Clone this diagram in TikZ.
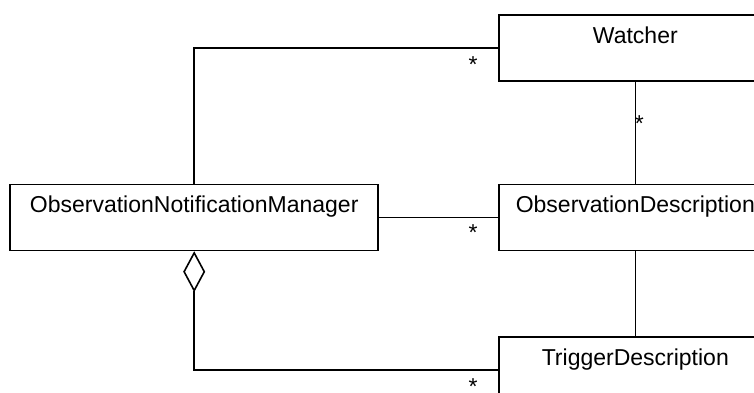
\documentclass[tikz,border=0pt]{standalone}
\usepackage{fontspec}
\setmainfont{Liberation Sans}
\usetikzlibrary{arrows.meta,positioning}

\begin{document}
\begin{tikzpicture}[x=1pt, y=-1pt, line width=1.6pt, font=\fontsize{23}{27}\selectfont,
    cls/.style={draw, rectangle, inner sep=0pt, text height=28.5pt, text depth=37.5pt, minimum height=66pt},
    mult/.style={inner sep=0pt, text height=12pt, text depth=-6pt}]
  \useasboundingbox (0,0) rectangle (754,392);
  \node[cls, minimum width=273pt, anchor=north west] (watcher) at (498,14) {Watcher};
  \node[cls, minimum width=273pt, below=102pt of watcher] (desc) {ObservationDescription};
  \node[cls, minimum width=273pt, below=85pt of desc] (trigger) {TriggerDescription};
  \node[cls, minimum width=368pt, left=119pt of desc] (manager) {ObservationNotificationManager};

  \draw (manager.north) |- (watcher.west);
  \draw (manager.east) -- (desc.west);
  \draw (watcher.south) -- (desc.north);
  \draw (desc.south) -- (trigger.north);
  \draw[{Diamond[open,length=41pt,width=22pt]}-] (manager.south) |- (trigger.west);

  \node[mult] (m1) at ([shift={(-25,18.5)}]watcher.west) {*};
  \node[mult] (m2) at ([shift={(4,44)}]watcher.south) {*};
  \node[mult] (m3) at ([shift={(-25,17)}]desc.west) {*};
  \node[mult] (m4) at ([shift={(-25,18)}]trigger.west) {*};
\end{tikzpicture}
\end{document}
